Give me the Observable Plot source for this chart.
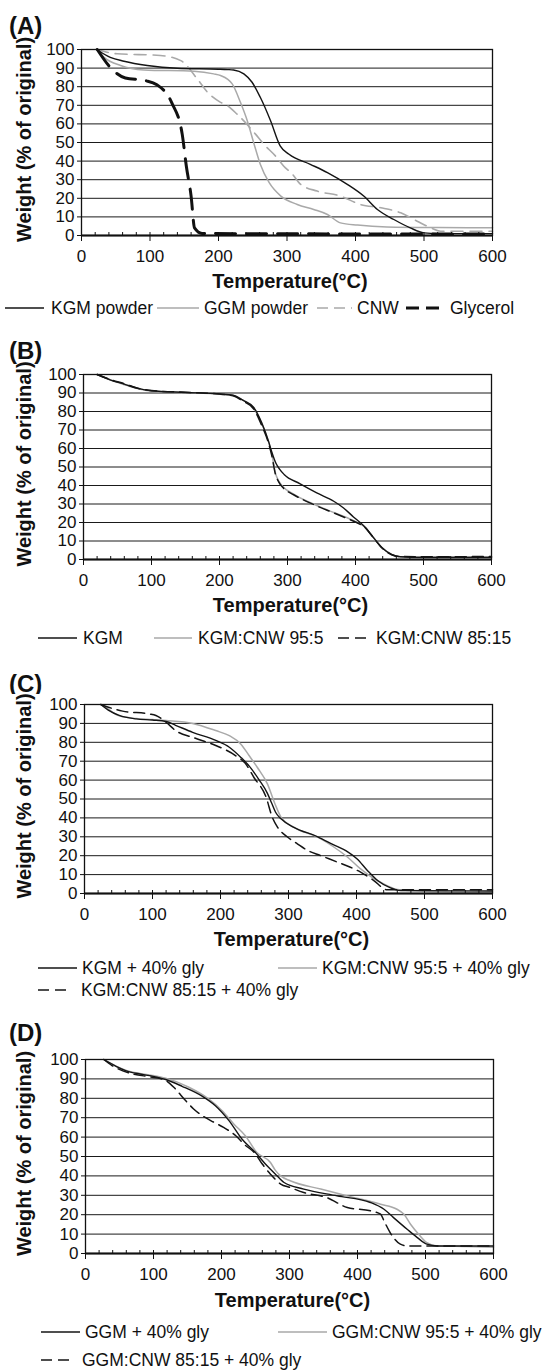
<!DOCTYPE html>
<html>
<head>
<meta charset="utf-8">
<script src="https://cdn.jsdelivr.net/npm/d3@7"></script>
<script src="https://cdn.jsdelivr.net/npm/@observablehq/plot@0.6"></script>
<style>
  html, body { margin: 0; padding: 0; background: #fff; }
  #page { position: relative; width: 549px; height: 1371px; font-family: "Liberation Sans", Arial, sans-serif; color: #111; overflow: hidden; }
  .ptitle { position: absolute; left: 9px; font-weight: bold; font-size: 24px; line-height: 24px; }
  .chart { position: absolute; left: 0; }
  .leg { position: absolute; font-size: 17.5px; line-height: 20px; white-space: nowrap; }
  .sw { position: absolute; }
</style>
</head>
<body>
<div id="page"></div>
<script>
// ---------- data (temperature °C, weight % of original) ----------
const xTicks = [0, 100, 200, 300, 400, 500, 600];
const xMinor = [0,20,40,60,80,100,120,140,160,180,200,220,240,260,280,300,320,340,360,380,400,420,440,460,480,500,520,540,560,580,600];
const yTicks = [0, 10, 20, 30, 40, 50, 60, 70, 80, 90, 100];

// Panel A
const A_KGM = [[22,100],[42,95.8],[62,93.7],[96,91.4],[140,89.9],[200,89.4],[213,89.2],[222,89],[237,86.9],[249,82.4],[261,74.3],[276,61.7],[290,48.2],[303,43.7],[334,38.3],[359,33.8],[388,27.5],[412,21.2],[432,14],[456,8.6],[480,4.1],[500,1.4],[520,1],[600,1]];
const A_GGM = [[22,100],[33,95.8],[57,91.4],[91,89],[164,88.3],[193,86.9],[203,86],[220,81.5],[232,71.6],[242,61.7],[252,49.1],[261,38.3],[274,28.4],[291,21.2],[315,16.7],[339,14],[359,11.3],[378,6.8],[403,5.6],[446,4.6],[520,4.3],[600,4.2]];
const A_CNW = [[22,100],[52,97.7],[115,96.8],[145,94],[169,84.2],[184,77],[203,71.6],[213,69.8],[227,65.3],[254,54.5],[266,49.1],[283,42.8],[295,37.4],[308,32.9],[320,27.5],[344,23.9],[378,21.2],[407,16.7],[437,14.9],[466,12.2],[490,7.7],[510,4.1],[524,2.3],[600,2.3]];
const A_GLY = [[23,100],[45,89.2],[64,84.7],[93,83.3],[110,81.1],[132,71.2],[147,54.5],[153,37.4],[160,21.2],[165,4.1],[176,1.1],[300,0.9],[600,0.8]];

// Panel B
const B_KGM = [[20,100],[40,97],[60,94.8],[80,92.5],[100,91.2],[150,90.3],[200,89.5],[220,88.8],[235,86],[250,82.3],[262,74],[272,64],[277,58],[283,52],[288,49],[295,46],[318,41],[343,36],[368,31.5],[382,28],[397,23],[412,18.2],[426,12],[439,6.4],[453,2.8],[466,1.5],[500,1.2],[600,1.2]];
const B_9505 = [[20,100],[40,97],[60,94.5],[80,92.3],[100,91],[150,90.2],[200,89.3],[220,88.6],[235,86],[250,82],[262,73.5],[272,64],[277,57],[282,47],[287,42.5],[293,39.5],[309,35.3],[338,30],[368,25.4],[387,22.7],[407,19.1],[412,18],[426,12],[439,6.4],[453,2.8],[466,1.5],[500,1],[600,1]];
const B_8515 = [[20,100],[40,97.2],[60,95],[80,92.6],[100,91.3],[150,90.4],[200,89.4],[220,88.5],[235,85.5],[250,81.5],[262,72.5],[272,63],[277,56],[282,46.5],[287,42],[293,39],[309,35],[338,29.8],[368,25.2],[387,22.3],[407,19],[412,18],[426,12],[439,6.2],[453,2.6],[466,1.6],[500,1.5],[600,1.6]];

// Panel C
const C_KGM = [[24,100],[35,97],[51,94.2],[76,92.4],[100,91.8],[120,91],[134,89],[159,85.3],[193,81],[213,77.4],[230,72],[242,67.5],[257,60],[269,53],[275,48],[281,43],[289,39.5],[308,35],[343,30],[365,26],[387,22],[401,18.3],[416,12.2],[431,6.9],[450,3],[465,1.6],[500,1.5],[600,1.3]];
const C_9505 = [[24,100],[35,97.5],[51,94],[76,92.6],[100,92],[120,91.5],[159,90],[193,86.2],[213,83.5],[230,79],[242,73],[254,66.8],[269,58],[280,47.5],[289,40.4],[308,35],[343,29.8],[365,25],[387,19.2],[406,13],[426,7.8],[445,4.2],[460,2.1],[500,1.2],[600,0.6]];
const C_8515 = [[24,100],[40,98],[56,96.5],[95,95],[105,94.2],[120,90.6],[134,86.2],[161,82.4],[193,78.3],[222,73],[237,68.6],[249,61.5],[267,51],[276,40.5],[284,35],[298,30],[313,26.3],[328,22.8],[347,20.1],[372,16.6],[391,13.9],[406,11.3],[425,7],[445,2],[460,2],[600,2]];

// Panel D
const D_GGM = [[27,100],[45,96.5],[59,94.3],[80,92.5],[98,91.4],[118,89.7],[142,86.2],[172,81],[191,76.2],[211,68.5],[230,59],[250,52],[267,45.2],[279,41],[292,36.6],[321,33.2],[370,29.7],[419,26.3],[439,22.8],[453,18.5],[473,12.5],[488,8.2],[502,4.8],[517,3.9],[600,3.9]];
const D_9505 = [[27,100],[45,96.5],[59,94.5],[80,92.8],[98,91.8],[118,90.3],[152,85.7],[181,79.7],[201,73.6],[218,66.8],[235,60.7],[252,52],[272,46.9],[279,43],[287,40],[301,37.5],[346,33.2],[385,29.7],[434,25.4],[458,22.8],[468,20.3],[478,15.1],[490,9.9],[502,5.6],[517,3.9],[560,3.6],[600,3.2]];
const D_8515 = [[27,100],[39,96.9],[69,92.6],[98,90.9],[118,89.2],[132,84.9],[145,79.7],[159,74.5],[172,71],[189,67.6],[203,65],[221,60.7],[233,56.4],[250,51.3],[260,46.1],[272,40.9],[287,35.8],[301,34],[321,31.4],[355,28.8],[385,23.7],[419,22],[434,20.3],[439,16.8],[448,10.8],[463,4.8],[473,3.9],[600,3.9]];

// Labels
const xLabel = "Temperature(°C)";
const yLabel = "Weight (% of original)";
const titles = ["(A)", "(B)", "(C)", "(D)"];
const legA = ["KGM powder", "GGM powder", "CNW", "Glycerol"];
const legB = ["KGM", "KGM:CNW 95:5", "KGM:CNW 85:15"];
const legC = ["KGM + 40% gly", "KGM:CNW 95:5 + 40% gly", "KGM:CNW 85:15 + 40% gly"];
const legD = ["GGM + 40% gly", "GGM:CNW 95:5 + 40% gly", "GGM:CNW 85:15 + 40% gly"];

// ---------- styles ----------
const FONT = "'Liberation Sans', Arial, sans-serif";
const S = {
  black: {stroke: "#141414", strokeWidth: 1.4, dash: null},
  gray: {stroke: "#a9a9a9", strokeWidth: 1.5, dash: null},
  grayDash: {stroke: "#a9a9a9", strokeWidth: 1.6, dash: "12,7"},
  glyDash: {stroke: "#111", strokeWidth: 3, dash: "20,11"},
  blackDash: {stroke: "#141414", strokeWidth: 1.5, dash: "11,6"}
};

const page = document.getElementById("page");

function addTitle(text, cy) {
  const d = document.createElement("div");
  d.className = "ptitle";
  d.style.top = (cy - 12) + "px";
  d.textContent = text;
  page.appendChild(d);
}

function addPanel(cfg) {
  const lineMarks = cfg.series.map(s => Plot.line(s.data, {
    x: d => d[0], y: d => d[1], stroke: s.style.stroke, strokeWidth: s.style.strokeWidth,
    strokeDasharray: s.style.dash || undefined, curve: "monotone-x"
  }));
  const chart = Plot.plot({
    width: 549, height: cfg.height,
    marginTop: 10, marginBottom: cfg.height - 10 - cfg.frameH,
    marginLeft: cfg.left, marginRight: 549 - cfg.right,
    style: {fontFamily: FONT, fontSize: "17px", color: "#111", background: "#fff", overflow: "visible"},
    x: {domain: [0, 600]},
    y: {domain: [0, 100]},
    marks: [
      Plot.ruleY(yTicks, {stroke: "#1a1a1a", strokeWidth: 1}),
      ...lineMarks,
      Plot.ruleX(xMinor, {y1: 0, y2: 0, insetTop: -3, stroke: "#111", strokeWidth: 1}),
      Plot.frame({stroke: "#111", strokeWidth: 1.3}),
      Plot.ruleY([0], {stroke: "#111", strokeWidth: 2}),
      Plot.axisX({ticks: xTicks, tickSize: 6, tickPadding: 8, label: null, fontSize: 17, tickFormat: d => String(d)}),
      Plot.axisY({ticks: yTicks, tickSize: 4, tickPadding: 3, label: null, fontSize: 17, tickFormat: d => String(d)}),
      Plot.text([xLabel], {text: d => d, frameAnchor: "bottom", dy: cfg.xLabDy, dx: 3, fontSize: 20, fontWeight: "bold", lineAnchor: "middle", textAnchor: "middle"}),
      Plot.text([yLabel], {text: d => d, frameAnchor: "left", dx: -(cfg.left - 24), dy: -3, rotate: -90, fontSize: 20, fontWeight: "bold", lineAnchor: "middle", textAnchor: "middle"})
    ]
  });
  chart.classList.add("chart");
  chart.style.top = (cfg.frameTop - 10) + "px";
  page.appendChild(chart);
}

function addLegendItem(style, label, x1, x2, tx, cy) {
  const ns = "http://www.w3.org/2000/svg";
  const svg = document.createElementNS(ns, "svg");
  svg.setAttribute("class", "sw");
  svg.setAttribute("width", x2 - x1 + 4);
  svg.setAttribute("height", 8);
  svg.style.left = (x1 - 2) + "px";
  svg.style.top = (cy - 4) + "px";
  const ln = document.createElementNS(ns, "line");
  ln.setAttribute("x1", 2); ln.setAttribute("x2", x2 - x1 + 2);
  ln.setAttribute("y1", 4); ln.setAttribute("y2", 4);
  ln.setAttribute("stroke", style.stroke);
  ln.setAttribute("stroke-width", style.strokeWidth);
  if (style.dash) ln.setAttribute("stroke-dasharray", style === S.glyDash ? "13,7" : "11,6");
  svg.appendChild(ln);
  page.appendChild(svg);
  const d = document.createElement("div");
  d.className = "leg";
  d.style.left = tx + "px";
  d.style.top = (cy - 10) + "px";
  d.textContent = label;
  page.appendChild(d);
}

// ---------- Panel A ----------
addTitle(titles[0], 26);
addPanel({frameTop: 49, frameH: 186, height: 256, left: 81, right: 492, xLabDy: 46,
  series: [{data: A_CNW, style: S.grayDash}, {data: A_GGM, style: S.gray}, {data: A_KGM, style: S.black}, {data: A_GLY, style: S.glyDash}]});
addLegendItem(S.black, legA[0], 5, 44, 51, 308);
addLegendItem(S.gray, legA[1], 157, 199, 204, 308);
addLegendItem(S.grayDash, legA[2], 317, 352, 357, 308);
addLegendItem(S.glyDash, legA[3], 406, 444, 450, 308);

// ---------- Panel B ----------
addTitle(titles[1], 351);
addPanel({frameTop: 374, frameH: 185, height: 255, left: 83, right: 491, xLabDy: 46,
  series: [{data: B_9505, style: S.gray}, {data: B_KGM, style: S.black}, {data: B_8515, style: S.blackDash}]});
addLegendItem(S.black, legB[0], 38, 77, 83, 638);
addLegendItem(S.gray, legB[1], 154, 192, 198, 638);
addLegendItem(S.blackDash, legB[2], 338, 371, 376, 638);

// ---------- Panel C ----------
addTitle(titles[2], 684);
addPanel({frameTop: 704, frameH: 189, height: 259, left: 84, right: 492, xLabDy: 46,
  series: [{data: C_9505, style: S.gray}, {data: C_KGM, style: S.black}, {data: C_8515, style: S.blackDash}]});
addLegendItem(S.black, legC[0], 38, 77, 82, 968);
addLegendItem(S.gray, legC[1], 278, 317, 322, 968);
addLegendItem(S.blackDash, legC[2], 38, 72, 81, 990);

// ---------- Panel D ----------
addTitle(titles[3], 1033);
addPanel({frameTop: 1059, frameH: 194, height: 264, left: 85, right: 493, xLabDy: 47,
  series: [{data: D_9505, style: S.gray}, {data: D_GGM, style: S.black}, {data: D_8515, style: S.blackDash}]});
addLegendItem(S.black, legD[0], 41, 80, 85, 1332);
addLegendItem(S.gray, legD[1], 278, 327, 332, 1332);
addLegendItem(S.blackDash, legD[2], 41, 75, 82, 1360);
</script>
</body>
</html>
